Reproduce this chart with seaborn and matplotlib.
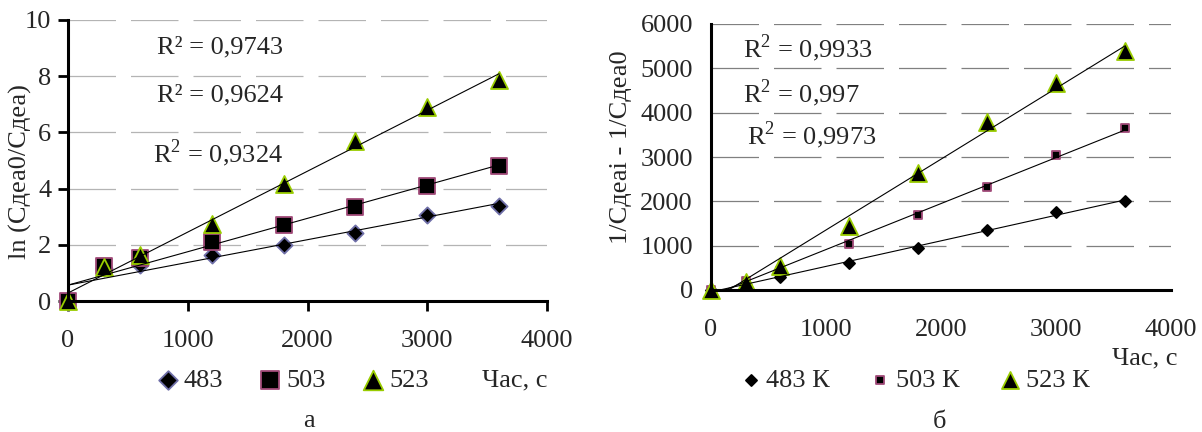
import matplotlib
matplotlib.use("Agg")
import matplotlib.pyplot as plt
import seaborn as sns
import numpy as np
import pandas as pd

# ---------------- data ----------------
time_s = [0, 300, 600, 1200, 1800, 2400, 3000, 3600]

ln_483 = [0, 1.18, 1.27, 1.63, 2.01, 2.42, 3.06, 3.38]
ln_503 = [0, 1.25, 1.54, 2.10, 2.70, 3.36, 4.10, 4.80]
ln_523 = [0, 1.21, 1.65, 2.73, 4.17, 5.70, 6.90, 7.88]

inv_483 = [0, 115, 300, 620, 940, 1350, 1760, 2000]
inv_503 = [0, 212, 420, 1040, 1690, 2325, 3045, 3650]
inv_523 = [0, 190, 545, 1440, 2650, 3790, 4660, 5380]

labels_left = ["483", "503", "523"]
labels_right = ["483 К", "503 К", "523 К"]
r2_left = ["0,9743", "0,9624", "0,9324"]
r2_right = ["0,9933", "0,997", "0,9973"]

x_ticks = [0, 1000, 2000, 3000, 4000]
y_ticks_left = [0, 2, 4, 6, 8, 10]
y_ticks_right = [0, 1000, 2000, 3000, 4000, 5000, 6000]

# ---------------- style ----------------
sns.set_theme(style="white")
plt.rcParams["font.family"] = ["Liberation Serif", "DejaVu Serif"]
plt.rcParams["mathtext.fontset"] = "custom"
plt.rcParams["mathtext.rm"] = "Liberation Serif"
FS = 19

fig = plt.figure(figsize=(12.02, 4.32), dpi=100)
ax1 = fig.add_axes([68 / 1202, 1 - 301 / 432, 479 / 1202, 281 / 432])
ax2 = fig.add_axes([711 / 1202, 1 - 290 / 432, 460 / 1202, 266 / 432])

GREEN = "#99cc00"
PINK = "#a04a78"
SLATE = "#6f6fa8"

def setup(ax, yticks, gridcolor):
    ax.set_xlim(0, 4000)
    ax.set_ylim(yticks[0], yticks[-1])
    ax.set_xticks(x_ticks)
    ax.set_yticks(yticks)
    for s in ["top", "right"]:
        ax.spines[s].set_visible(False)
    for s in ["left", "bottom"]:
        ax.spines[s].set_linewidth(2.2)
        ax.spines[s].set_color("black")
        ax.spines[s].set_zorder(5)
    ax.yaxis.grid(True, color=gridcolor, linewidth=0.9, linestyle=(0, (38, 12)))
    ax.xaxis.grid(False)
    ax.set_axisbelow(True)
    ax.set_facecolor("white")

# ---------------- left panel ----------------
setup(ax1, y_ticks_left, "#b4b4b4")
ax1.tick_params(axis="x", direction="out", length=7, width=2, color="black",
                pad=14, labelsize=FS, bottom=True)
ax1.tick_params(axis="y", direction="out", length=7, width=2, color="black",
                pad=5, labelsize=FS, left=True)

left_series = [
    (ln_483, "D", 68, SLATE, labels_left[0]),
    (ln_503, "s", 118, PINK, labels_left[1]),
    (ln_523, "^", 150, GREEN, labels_left[2]),
]
for yv, mk, s, ec, lab in left_series:
    sns.scatterplot(x=time_s, y=yv, marker=mk, s=s, color="black", edgecolor=ec,
                    linewidth=1.3, label=lab, ax=ax1, clip_on=False, zorder=3)
for yv, mk, s, ec, lab in left_series:
    sns.regplot(x=time_s, y=yv, scatter=False, ci=None, truncate=True,
                line_kws=dict(color="black", linewidth=0.8, zorder=4), ax=ax1)

ax1.text(0.186, 0.904, "R² = " + r2_left[0], transform=ax1.transAxes, fontsize=FS,
         ha="left", va="center")
ax1.text(0.186, 0.733, "R² = " + r2_left[1], transform=ax1.transAxes, fontsize=FS,
         ha="left", va="center")
ax1.text(0.178, 0.527, r"R$^\mathregular{2}$ = " + r2_left[2], transform=ax1.transAxes,
         fontsize=FS, ha="left", va="center")

ax1.set_ylabel("ln (Сдеа0/Сдеа)", fontsize=FS, va="center")
ax1.yaxis.set_label_coords(-0.100, 0.459)
ax1.set_xlabel("Час, с", fontsize=FS, ha="right", va="center")
ax1.xaxis.set_label_coords(1.0, -0.281)

h1, l1 = ax1.get_legend_handles_labels()
ax1.legend(h1, l1, loc="center left", bbox_to_anchor=(157 / 1202, 1 - 380 / 432),
           bbox_transform=fig.transFigure, ncol=3, frameon=False, fontsize=FS,
           handlelength=0.8, handletextpad=0.2, columnspacing=1.4,
           borderpad=0, borderaxespad=0, markerscale=1.15)

# ---------------- right panel ----------------
setup(ax2, y_ticks_right, "#808080")
ax2.tick_params(axis="x", length=0, pad=21, labelsize=FS)
ax2.tick_params(axis="y", length=0, pad=13, labelsize=FS)

right_series = [
    (inv_483, "D", 32, "black", labels_right[0]),
    (inv_503, "s", 38, PINK, labels_right[1]),
    (inv_523, "^", 150, GREEN, labels_right[2]),
]
for yv, mk, s, ec, lab in right_series:
    sns.scatterplot(x=time_s, y=yv, marker=mk, s=s, color="black", edgecolor=ec,
                    linewidth=1.3, label=lab, ax=ax2, clip_on=False, zorder=3)
for yv, mk, s, ec, lab in right_series:
    sns.regplot(x=time_s, y=yv, scatter=False, ci=None, truncate=True,
                line_kws=dict(color="black", linewidth=0.8, zorder=4), ax=ax2)

for yy, r in zip([0.91, 0.741, 0.583], r2_right):
    xx = 0.070 if r != r2_right[2] else 0.078
    ax2.text(xx, yy, r"R$^\mathregular{2}$ = " + r, transform=ax2.transAxes,
             fontsize=FS, ha="left", va="center")

ax2.set_ylabel("1/Сдеаi - 1/Сдеа0", fontsize=FS, va="center")
ax2.yaxis.set_label_coords(-0.196, 0.538)
ax2.set_xlabel("Час, с", fontsize=FS, ha="right", va="center")
ax2.xaxis.set_label_coords(1.015, -0.256)

h2, l2 = ax2.get_legend_handles_labels()
ax2.legend(h2, l2, loc="center left", bbox_to_anchor=(740 / 1202, 1 - 380 / 432),
           bbox_transform=fig.transFigure, ncol=3, frameon=False, fontsize=FS,
           handlelength=0.8, handletextpad=0.2, columnspacing=1.5,
           borderpad=0, borderaxespad=0)

# ---------------- panel captions ----------------
fig.text(309 / 1202, 1 - 421 / 432, "а", fontsize=FS, ha="center", va="center")
fig.text(939 / 1202, 1 - 422 / 432, "б", fontsize=FS, ha="center", va="center")

fig.savefig("out.png", dpi=100, facecolor="white")
